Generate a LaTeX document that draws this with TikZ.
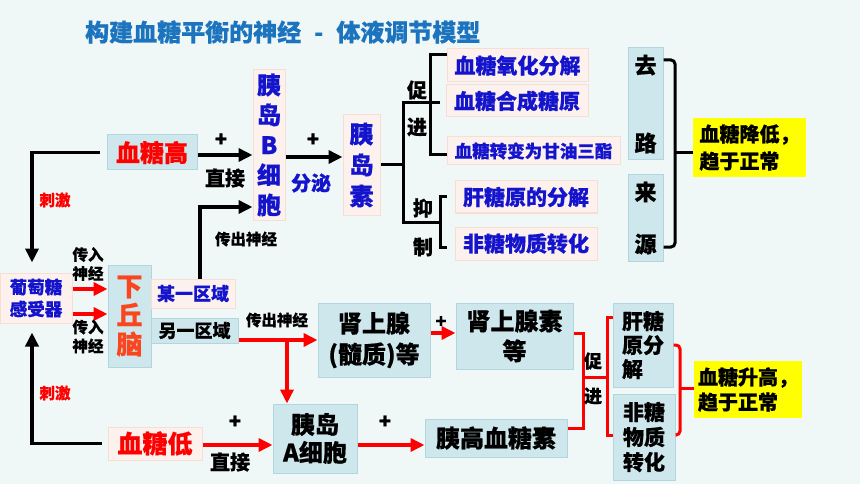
\documentclass[tikz,border=0pt]{standalone}
\usepackage{fontspec}
\setmainfont{Noto Sans CJK SC}[BoldFeatures={FakeBold=0.6}]
\usetikzlibrary{arrows.meta}
\definecolor{bg}{RGB}{240,248,247}
\definecolor{bfill}{RGB}{206,231,236}
\definecolor{bdraw}{RGB}{178,214,224}
\definecolor{pfill}{RGB}{253,241,237}
\definecolor{pdraw}{RGB}{247,221,212}
\definecolor{tblue}{RGB}{20,20,205}
\definecolor{ttl}{RGB}{28,116,190}
\definecolor{orng}{RGB}{250,70,30}
\definecolor{ylw}{RGB}{255,255,0}
\newcommand\fsz[2]{\fontsize{#1}{#2}\selectfont\bfseries}
\tikzset{
 box/.style={inner sep=0pt, align=center},
 bb/.style={box, fill=bfill, draw=bdraw, line width=1pt},
 pb/.style={box, fill=pfill, draw=pdraw, line width=1pt},
 yb/.style={box, fill=ylw},
 lb/.style={inner sep=0pt, align=center},
 blk/.style={line width=3.5pt, black},
 rd/.style={line width=3.5pt, red},
 tip/.style={-{Triangle[length=14pt,width=13pt]}},
 brk/.style={line width=3pt, black},
 rbrk/.style={line width=3pt, red},
}
\begin{document}
\begin{tikzpicture}[x=1pt,y=-1pt]
\fill[bg] (0,0) rectangle (860,484);
\useasboundingbox (0,0) rectangle (860,484);

\node[lb,text=ttl,font=\fsz{24}{28},anchor=west] (title) at (85,32) {构建血糖平衡的神经\hspace{13pt}-\hspace{13pt}体液调节模型};

% upper chain
\node[bb,text=red,minimum width=90pt,minimum height=35pt,font=\fsz{24}{28}] (gh) at (152,152.5) {血糖高};
\node[pb,text=tblue,minimum width=32pt,minimum height=150pt,font=\fsz{24}{30}] (bc) at (269,145) {胰\\岛\\B\\细\\胞};
\node[pb,text=tblue,minimum width=37pt,minimum height=100pt,font=\fsz{24}{31}] (ins) at (361.5,165) {胰\\岛\\素};

\draw[blk,tip] (gh.east |- 0,155) -- (bc.west |- 0,155);
\node[lb,font=\fsz{20}{24}] (p1) at (221,140) {+};
\node[lb,font=\fsz{20}{24}] (zj1) at (225,178) {直接};
\draw[blk,tip] (bc.east |- 0,157) -- (ins.west |- 0,157);
\node[lb,font=\fsz{20}{24}] (p2) at (313,140) {+};
\node[lb,text=tblue,font=\fsz{20}{24}] (fm) at (311,183) {分泌};

% insulin brackets
\draw[brk] (ins.east) -- (403,165);
\draw[brk] (440,103) -- (403,103) -- (403,222) -- (440,222);
\draw[brk] (447,55) -- (430,55) -- (430,155) -- (447,155);
\draw[brk] (447,197) -- (440,197) -- (440,247) -- (447,247);
\node[lb,font=\fsz{20}{24}] (c1) at (417,90) {促};
\node[lb,font=\fsz{20}{24}] (j1) at (417,127) {进};
\node[lb,font=\fsz{20}{24}] (y1a) at (423,208) {抑};
\node[lb,font=\fsz{20}{24}] (z1) at (423,247) {制};

\node[pb,text=tblue,minimum width=141pt,minimum height=33pt,font=\fsz{21}{24}] (ox) at (517.5,65.5) {血糖氧化分解};
\node[pb,text=tblue,minimum width=142pt,minimum height=32pt,font=\fsz{21}{24}] (syn) at (517,101) {血糖合成糖原};
\node[pb,text=tblue,minimum width=173pt,minimum height=28pt,font=\fsz{17.5}{21}] (tg) at (533.5,151) {血糖转变为甘油三酯};
\node[pb,text=tblue,minimum width=142pt,minimum height=32pt,font=\fsz{21}{24}] (gly) at (526,197) {肝糖原的分解};
\node[pb,text=tblue,minimum width=142pt,minimum height=33pt,font=\fsz{21}{24}] (nsg) at (526,243.5) {非糖物质转化};

\node[bb,minimum width=35pt,minimum height=112pt,font=\fsz{22}{78}] (ql) at (645.5,104) {去\\路};
\node[bb,minimum width=35pt,minimum height=86pt,font=\fsz{22}{52}] (ly) at (645.5,218) {来\\源};

\draw[brk,rounded corners=4pt] (ql.east |- 0,60) -- (675,60) -- (675,247) -- (ly.east |- 0,247);
\node[yb,minimum width=113pt,minimum height=59pt,font=\fsz{20}{27},align=left] (yA) at (749.5,147.5) {血糖降低，\\趋于正常};
\draw[brk] (675,153) -- (yA.west |- 0,153);

% left side
\node[pb,text=tblue,minimum width=72pt,minimum height=50pt,font=\fsz{17.5}{22}] (sen) at (36,298) {葡萄糖\\感受器};
\node[bb,text=orng,minimum width=43pt,minimum height=102pt,font=\fsz{26}{29}] (hyp) at (129.5,316) {下\\丘\\脑};
\node[pb,text=tblue,minimum width=84pt,minimum height=29pt,font=\fsz{18}{22}] (r1) at (193,293.5) {某一区域};
\node[bb,minimum width=87pt,minimum height=25pt,font=\fsz{18}{22}] (r2) at (194.5,330.5) {另一区域};

\draw[rd,tip] (sen.east |- 0,289) -- (hyp.west |- 0,289);
\draw[rd,tip] (sen.east |- 0,314) -- (hyp.west |- 0,314);
\node[lb,font=\fsz{15.5}{19}] (in1) at (88,264) {传入\\神经};
\node[lb,font=\fsz{15.5}{19}] (in2) at (88,336.5) {传入\\神经};
\node[lb,text=red,font=\fsz{15.5}{19}] (cj1) at (55,200) {刺激};
\node[lb,text=red,font=\fsz{15.5}{19}] (cj2) at (55,393) {刺激};

\draw[blk,tip,shorten >=10pt] ([xshift=-7pt]gh.west) -| ([xshift=-4pt]sen.north);
\node[pb,text=red,minimum width=94pt,minimum height=33pt,font=\fsz{25}{28}] (glow) at (155,443.5) {血糖低};
\draw[blk,tip,shorten >=9pt] ([xshift=-6pt]glow.west) -| ([xshift=-4pt]sen.south);

\draw[blk,tip] ([xshift=7pt]r1.north) |- (bc.west |- 0,207);
\node[lb,font=\fsz{15.5}{19}] (out1) at (246,239) {传出神经};

% lower chain
\node[bb,minimum width=112pt,minimum height=74pt,font=\fsz{24}{31}] (adr) at (374,340) {肾上腺\\(髓质)等};
\node[bb,minimum width=117pt,minimum height=66pt,font=\fsz{24}{30}] (adrn) at (514.5,336) {肾上腺素\\等};
\node[bb,minimum width=84pt,minimum height=69pt,font=\fsz{24}{28}] (acell) at (315,438.5) {胰岛\\A细胞};
\node[bb,minimum width=142pt,minimum height=38pt,font=\fsz{24}{28}] (gcg) at (496,438) {胰高血糖素};

\draw[rd,tip] (r2.east |- adr.west) -- (adr.west);
\coordinate (br) at (adr.west -| 287,0);
\draw[rd,tip] (br) -- (br |- acell.north);
\node[lb,font=\fsz{15.5}{19}] (out2) at (277,320) {传出神经};

\draw[rd,tip] (adr.east |- 0,333) -- (adrn.west |- 0,333);
\node[lb,font=\fsz{18}{22}] (p3) at (441,322) {+};

\draw[rd,tip] (glow.east |- 0,445) -- (acell.west |- 0,445);
\node[lb,font=\fsz{20}{24}] (p4) at (235,422) {+};
\node[lb,font=\fsz{20}{24}] (zj2) at (230,462) {直接};
\draw[rd,tip] (acell.east |- 0,445) -- (gcg.west |- 0,445);
\node[lb,font=\fsz{20}{24}] (p5) at (385,422) {+};

\node[bb,minimum width=60pt,minimum height=84pt,font=\fsz{21}{24},align=left] (liv) at (643,345) {肝糖\\原分\\解};
\node[bb,minimum width=62pt,minimum height=86pt,font=\fsz{21}{25}] (nsg2) at (644,437) {非糖\\物质\\转化};

\draw[rbrk] (adrn.east |- 0,333) -- (583,333) -- (583,428) -- (gcg.east |- 0,428);
\draw[rbrk] (583,377) -- (607,377);
\draw[rbrk] (liv.west |- 0,317) -- (607,317) -- (607,435) -- (nsg2.west |- 0,435);
\node[lb,font=\fsz{18}{22}] (c2) at (593,361) {促};
\node[lb,font=\fsz{18}{22}] (j2) at (593,396) {进};

\node[yb,minimum width=108pt,minimum height=57pt,font=\fsz{20}{25},align=left] (yB) at (748,389.5) {血糖升高，\\趋于正常};
\draw[rbrk,rounded corners=4pt] (liv.east |- 0,345) -- (680,345) -- (680,435) -- (nsg2.east |- 0,435);
\draw[rbrk] (680,388) -- (yB.west |- 0,388);
\end{tikzpicture}
\end{document}
